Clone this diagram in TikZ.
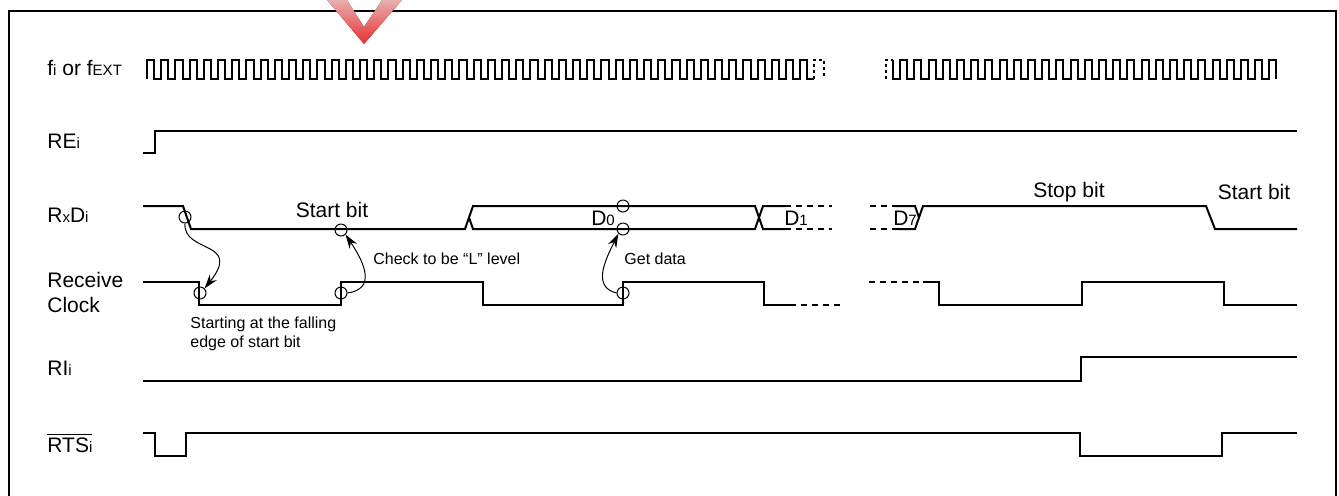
\documentclass[tikz,border=0pt]{standalone}
\usepackage{fontspec}
\setmainfont{Liberation Sans}
\usepackage{tikz}
\usetikzlibrary{arrows.meta}

\newcommand{\lsub}[1]{{\fontsize{7.5}{8}\selectfont #1}}

\tikzset{
  wave/.style={line width=1pt},
  brk/.style={line width=1pt, dash pattern=on 3pt off 2.5pt},
  dots/.style={line width=1pt, dash pattern=on 1.5pt off 1.5pt},
  ring/.style={draw, circle, line width=0.5pt, minimum size=6pt, inner sep=0pt},
  lbl/.style={anchor=west, inner sep=0pt, font=\fontsize{10.5}{12.5}\selectfont},
  bit/.style={inner sep=0pt, font=\fontsize{10.5}{12.5}\selectfont},
  note/.style={inner sep=0pt, font=\fontsize{8}{9.5}\selectfont},
  hook/.style={line width=0.5pt, -{Stealth[length=7pt, width=4.5pt]}},
}

\begin{document}
\begin{tikzpicture}[x=0.5pt, y=-0.5pt]
  \useasboundingbox (0,0) rectangle (1339,495);
  % frame
  \draw[line width=1.2pt] (9,500) -- (9,11) -- (1336,11) -- (1336,500);
  \fill[top color=red!25, bottom color=red!80, opacity=0.9]
    (327,0) -- (364,44) -- (402,0) -- (382,0) -- (364,27) -- (347,0) -- cycle;

  % signal names
  \node[lbl] (nclk) at (47,68) {f\lsub{i} or f\lsub{EXT}};
  \node[lbl] (nre)  at (47,141) {RE\lsub{i}};
  \node[lbl] (nrxd) at (47,215) {R\lsub{x}D\lsub{i}};
  \node[lbl, align=left] (nrc) at (47,292) {Receive\\Clock};
  \node[lbl] (nri)  at (47,368) {RI\lsub{i}};
  \node[lbl] (nrts) at (47,443) {$\overline{\mbox{RTS\lsub{i}}}$};

  % fi or fEXT
  \draw[wave] (147,79) \foreach \i in {1,...,47} { -- ++(0,-19) -- ++(7.1,0) -- ++(0,19) -- ++(7.1,0) };
  \draw[dots] (814.4,79) -- (814.4,60) -- (824,60) -- (824,79);
  \draw[dots] (886,79) -- (886,60) -- (893,60);
  \draw[wave] (893,60) -- ++(0,19) \foreach \i in {1,...,27} { -- ++(7.1,0) -- ++(0,-19) -- ++(7.1,0) -- ++(0,19) };

  % REi
  \draw[wave] (143,153) -- (155,153) -- (155,131) -- (1297,131);

  % RxDi
  \draw[wave] (143,206) -- (183,206) -- (191,229) -- (465,229) -- (473,206) -- (755,206)
    -- (763,229) -- (785,229);
  \draw[wave] (469,217.5) -- (473,229) -- (755,229) -- (763,206) -- (785,206);
  \draw[brk] (785,206) -- (832,206);
  \draw[brk] (785,229) -- (832,229);
  \draw[brk] (870,206) -- (895,206);
  \draw[brk] (870,229) -- (895,229);
  \draw[wave] (895,206) -- (915,206) -- (919,217.5);
  \draw[wave] (895,229) -- (915,229) -- (923,206) -- (1206,206) -- (1215,229) -- (1297,229);
  \node[bit] (tsb)  at (332,210) {Start bit};
  \node[bit] (td0)  at (603,218) {D\lsub{0}};
  \node[bit] (td1)  at (796,218) {D\lsub{1}};
  \node[bit] (td7)  at (905,218) {D\lsub{7}};
  \node[bit] (tstp) at (1069,192) {Stop bit};
  \node[bit] (tsb2) at (1254,192) {Start bit};

  % Receive Clock
  \draw[wave] (143,282) -- (199,282) -- (199,305) -- (341,305) -- (341,282) -- (483,282)
    -- (483,305) -- (623,305) -- (623,282) -- (764,282) -- (764,305) -- (790,305);
  \draw[brk] (790,305) -- (843,305);
  \draw[brk] (869,282) -- (923,282);
  \draw[wave] (923,282) -- (939,282) -- (939,305) -- (1082,305) -- (1082,282) -- (1224,282)
    -- (1224,305) -- (1297,305);

  % RIi
  \draw[wave] (143,381) -- (1081,381) -- (1081,357) -- (1297,357);

  % RTSi
  \draw[wave] (143,433) -- (155,433) -- (155,456) -- (186,456) -- (186,433) -- (1080,433)
    -- (1080,456) -- (1222,456) -- (1222,433) -- (1297,433);

  % sampling points
  \node[ring] (cfall) at (185,217) {};
  \node[ring] (clow)  at (341,230) {};
  \node[ring] (cd0a)  at (623,206) {};
  \node[ring] (cd0b)  at (623,229) {};
  \node[ring] (ck1)   at (200,293) {};
  \node[ring] (ck2)   at (341,293) {};
  \node[ring] (ck3)   at (623,293) {};

  \draw[hook] (cfall.south) .. controls +(-2,30) and +(38,-48) .. (ck1.north east);
  \draw[hook] (ck2.east) .. controls +(28,-4) and +(20,30) .. (clow.south east);
  \draw[hook] (ck3.west) .. controls +(-24,-6) and +(-14,28) .. (cd0b.south west);

  \node[note, anchor=west] (tchk) at (373,259) {Check to be “L” level};
  \node[note, anchor=west] (tget) at (624,259) {Get data};
  \node[note, anchor=north west, align=left] (tstart) at (190,316)
    {Starting at the falling\\edge of start bit};
\end{tikzpicture}
\end{document}
